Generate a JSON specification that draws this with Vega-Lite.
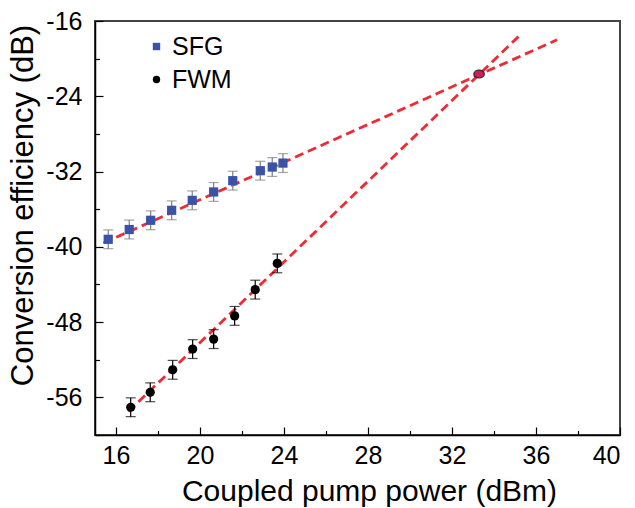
{
  "$schema": "https://vega.github.io/schema/vega-lite/v6.json",
  "width": 525,
  "height": 414,
  "autosize": {"type": "none"},
  "padding": {"left": 95, "top": 21, "right": 15, "bottom": 73},
  "background": "white",
  "config": {
    "font": "Liberation Sans",
    "view": {"stroke": "#444444", "strokeWidth": 2},
    "axis": {"grid": false, "domainColor": "black", "domainWidth": 1.5, "tickColor": "black", "tickWidth": 1.2, "labelColor": "black", "titleColor": "black", "titleFontWeight": "normal", "labelFont": "Liberation Sans", "titleFont": "Liberation Sans"}
  },
  "datasets": {
    "pts": [
      {"series": "SFG", "x": 15.63, "y": -39.2, "lo": -40.2, "hi": -38.2},
      {"series": "SFG", "x": 16.63, "y": -38.16, "lo": -39.16, "hi": -37.16},
      {"series": "SFG", "x": 17.65, "y": -37.18, "lo": -38.18, "hi": -36.18},
      {"series": "SFG", "x": 18.65, "y": -36.12, "lo": -37.12, "hi": -35.12},
      {"series": "SFG", "x": 19.63, "y": -35.06, "lo": -36.06, "hi": -34.06},
      {"series": "SFG", "x": 20.65, "y": -34.17, "lo": -35.17, "hi": -33.17},
      {"series": "SFG", "x": 21.56, "y": -32.97, "lo": -33.97, "hi": -31.97},
      {"series": "SFG", "x": 22.87, "y": -31.91, "lo": -32.91, "hi": -30.91},
      {"series": "SFG", "x": 23.44, "y": -31.52, "lo": -32.52, "hi": -30.52},
      {"series": "SFG", "x": 23.95, "y": -31.1, "lo": -32.1, "hi": -30.1},
      {"series": "FWM", "x": 16.7, "y": -57.05, "lo": -58.05, "hi": -56.05},
      {"series": "FWM", "x": 17.63, "y": -55.46, "lo": -56.46, "hi": -54.46},
      {"series": "FWM", "x": 18.7, "y": -53.07, "lo": -54.07, "hi": -52.07},
      {"series": "FWM", "x": 19.65, "y": -50.87, "lo": -51.87, "hi": -49.87},
      {"series": "FWM", "x": 20.65, "y": -49.81, "lo": -50.81, "hi": -48.81},
      {"series": "FWM", "x": 21.65, "y": -47.34, "lo": -48.34, "hi": -46.34},
      {"series": "FWM", "x": 22.63, "y": -44.55, "lo": -45.55, "hi": -43.55},
      {"series": "FWM", "x": 23.68, "y": -41.76, "lo": -42.76, "hi": -40.76}
    ],
    "fits": [
      {"fit": "SFG", "x": 15.4, "y": -39.6},
      {"fit": "SFG", "x": 37.0, "y": -18.0},
      {"fit": "FWM", "x": 16.59, "y": -57.5},
      {"fit": "FWM", "x": 35.32, "y": -17.33}
    ],
    "cross": [
      {"x": 33.29, "y": -21.64}
    ]
  },
  "resolve": {"axis": {"x": "independent", "y": "independent"}},
  "layer": [
    {
      "data": {"name": "fits"},
      "mark": {"type": "line", "color": "#ee2a35", "strokeWidth": 2.8, "strokeDash": [9, 5]},
      "encoding": {
        "x": {"field": "x", "type": "quantitative", "scale": {"domain": [15, 40], "nice": false, "zero": false},
          "axis": {"orient": "bottom", "title": null, "values": [18, 22, 26, 30, 34, 38], "labels": false, "domain": false, "tickSize": -4.5, "offset": 0}},
        "y": {"field": "y", "type": "quantitative", "scale": {"domain": [-60, -16], "nice": false, "zero": false},
          "axis": {"orient": "left", "title": null, "values": [-60, -52, -44, -36, -28, -20], "labels": false, "domain": false, "tickSize": -4.5, "offset": 0}},
        "detail": {"field": "fit"}
      }
    },
    {
      "data": {"name": "pts"},
      "mark": {"type": "rule", "strokeWidth": 1.2},
      "encoding": {
        "x": {"field": "x", "type": "quantitative", "scale": {"domain": [15, 40], "nice": false, "zero": false},
          "axis": {"orient": "bottom", "title": "Coupled pump power (dBm)", "values": [16, 20, 24, 28, 32, 36, 40],
            "tickSize": -8, "labelPadding": 16, "labelFontSize": 25, "titleFontSize": 30, "offset": 0,
            "titleBaseline": "alphabetic", "titleX": 274, "titleY": 65}},
        "y": {"field": "lo", "type": "quantitative", "scale": {"domain": [-60, -16], "nice": false, "zero": false},
          "axis": {"orient": "left", "title": "Conversion efficiency (dB)", "values": [-56, -48, -40, -32, -24, -16],
            "labelExpr": "'' + datum.value",
            "tickSize": -8, "labelPadding": 21, "labelFontSize": 25, "titleFontSize": 31, "offset": 0,
            "titleBaseline": "alphabetic", "titleX": -63, "titleY": 184}},
        "y2": {"field": "hi"},
        "color": {"condition": {"test": "datum.series === 'SFG'", "value": "#7f7f7f"}, "value": "black"}
      }
    },
    {
      "data": {"name": "pts"},
      "mark": {"type": "tick", "orient": "horizontal", "size": 10, "thickness": 1.2},
      "encoding": {
        "x": {"field": "x", "type": "quantitative", "axis": null},
        "y": {"field": "lo", "type": "quantitative", "axis": null},
        "color": {"condition": {"test": "datum.series === 'SFG'", "value": "#7f7f7f"}, "value": "black"}
      }
    },
    {
      "data": {"name": "pts"},
      "mark": {"type": "tick", "orient": "horizontal", "size": 10, "thickness": 1.2},
      "encoding": {
        "x": {"field": "x", "type": "quantitative", "axis": null},
        "y": {"field": "hi", "type": "quantitative", "axis": null},
        "color": {"condition": {"test": "datum.series === 'SFG'", "value": "#7f7f7f"}, "value": "black"}
      }
    },
    {
      "data": {"name": "pts"},
      "mark": {"type": "point", "filled": true, "opacity": 1, "size": 85},
      "encoding": {
        "x": {"field": "x", "type": "quantitative", "axis": null},
        "y": {"field": "y", "type": "quantitative", "axis": null},
        "color": {"field": "series", "type": "nominal", "scale": {"domain": ["SFG", "FWM"], "range": ["#3a53a6", "black"]},
          "legend": {"title": null, "orient": "none", "legendX": 49, "legendY": 13, "labelFontSize": 25, "symbolSize": 55, "labelOffset": 3, "rowPadding": 7, "labelColor": "black", "symbolStrokeWidth": 0}},
        "shape": {"field": "series", "type": "nominal", "scale": {"domain": ["SFG", "FWM"], "range": ["square", "circle"]},
          "legend": {"title": null, "orient": "none", "legendX": 49, "legendY": 13, "labelFontSize": 25, "symbolSize": 55, "labelOffset": 3, "rowPadding": 7, "labelColor": "black", "symbolStrokeWidth": 0}}
      }
    },
    {
      "data": {"name": "cross"},
      "mark": {"type": "point", "filled": true, "opacity": 1, "size": 110, "fill": "#d8185a", "stroke": "#2a2a2a", "strokeWidth": 1.2,
        "shape": "M-1,0 A1,0.75 0 1,0 1,0 A1,0.75 0 1,0 -1,0 Z"},
      "encoding": {
        "x": {"field": "x", "type": "quantitative", "axis": null},
        "y": {"field": "y", "type": "quantitative", "axis": null}
      }
    }
  ]
}
